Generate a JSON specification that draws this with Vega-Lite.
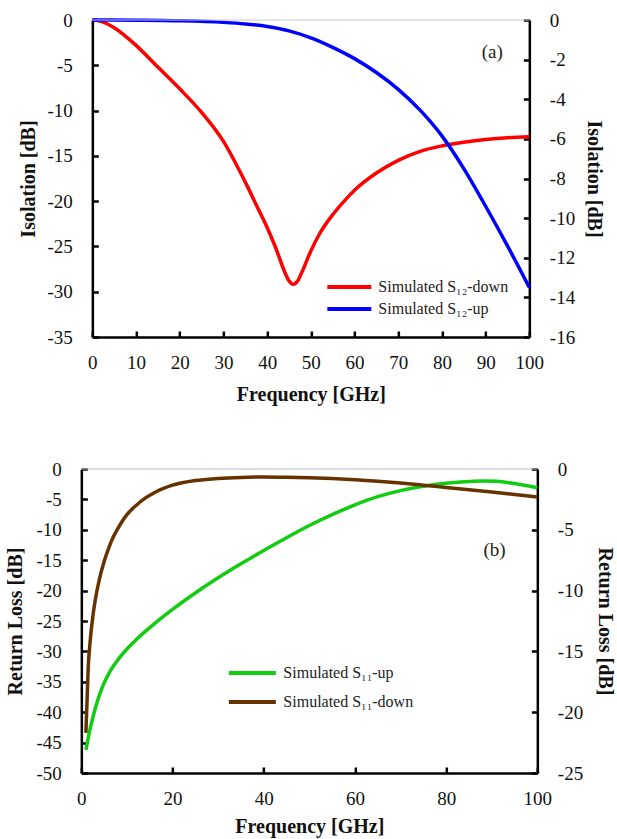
{
  "$schema": "https://vega.github.io/schema/vega-lite/v6.json",
  "padding": {"left": 5, "top": 11, "right": 3, "bottom": 5},
  "background": "white",
  "config": {
    "font": "Liberation Serif",
    "view": {"stroke": null},
    "axis": {
      "labelFont": "Liberation Serif", "labelFontSize": 19, "labelColor": "#111111",
      "titleFont": "Liberation Serif", "titleFontSize": 20, "titleFontWeight": "bold", "titleColor": "#111111",
      "domainColor": "#000000", "domainWidth": 2.5, "tickColor": "#000000", "tickWidth": 2.5,
      "tickSize": -6, "labelPadding": 26, "grid": false, "titlePadding": 4, "labelFlush": false, "labelOverlap": false,
      "labelExpr": "replace(datum.label, '−', '-')"
    },
    "legend": {
      "labelFont": "Liberation Serif", "labelFontSize": 16, "labelColor": "#222222",
      "symbolType": "M-2,0L2,0", "symbolStrokeWidth": 4, "padding": 0
    }
  },
  "spacing": 56,
  "center": true,
  "resolve": {"scale": {"color": "independent", "x": "independent"}, "legend": {"color": "independent"}},
  "vconcat": [
    {
      "width": 437, "height": 317,
      "data": {"values": [
        {"f": 0, "v": 0, "s": "Simulated S₁₂-down"},
        {"f": 2, "v": -0.15, "s": "Simulated S₁₂-down"},
        {"f": 5, "v": -0.85, "s": "Simulated S₁₂-down"},
        {"f": 10, "v": -2.8, "s": "Simulated S₁₂-down"},
        {"f": 15, "v": -5.2, "s": "Simulated S₁₂-down"},
        {"f": 20, "v": -7.6, "s": "Simulated S₁₂-down"},
        {"f": 25, "v": -10.2, "s": "Simulated S₁₂-down"},
        {"f": 30, "v": -13.4, "s": "Simulated S₁₂-down"},
        {"f": 35, "v": -17.9, "s": "Simulated S₁₂-down"},
        {"f": 38, "v": -20.9, "s": "Simulated S₁₂-down"},
        {"f": 40, "v": -22.9, "s": "Simulated S₁₂-down"},
        {"f": 42, "v": -25.2, "s": "Simulated S₁₂-down"},
        {"f": 44, "v": -27.8, "s": "Simulated S₁₂-down"},
        {"f": 45, "v": -28.8, "s": "Simulated S₁₂-down"},
        {"f": 46, "v": -29.2, "s": "Simulated S₁₂-down"},
        {"f": 47, "v": -28.8, "s": "Simulated S₁₂-down"},
        {"f": 48, "v": -27.8, "s": "Simulated S₁₂-down"},
        {"f": 50, "v": -25.5, "s": "Simulated S₁₂-down"},
        {"f": 52, "v": -23.6, "s": "Simulated S₁₂-down"},
        {"f": 55, "v": -21.5, "s": "Simulated S₁₂-down"},
        {"f": 58, "v": -19.8, "s": "Simulated S₁₂-down"},
        {"f": 60, "v": -18.8, "s": "Simulated S₁₂-down"},
        {"f": 65, "v": -16.9, "s": "Simulated S₁₂-down"},
        {"f": 70, "v": -15.5, "s": "Simulated S₁₂-down"},
        {"f": 75, "v": -14.5, "s": "Simulated S₁₂-down"},
        {"f": 80, "v": -13.9, "s": "Simulated S₁₂-down"},
        {"f": 85, "v": -13.5, "s": "Simulated S₁₂-down"},
        {"f": 90, "v": -13.2, "s": "Simulated S₁₂-down"},
        {"f": 95, "v": -13.0, "s": "Simulated S₁₂-down"},
        {"f": 100, "v": -12.9, "s": "Simulated S₁₂-down"},
        {"f": 0, "v": 0, "s": "Simulated S₁₂-up"},
        {"f": 10, "v": -0.01, "s": "Simulated S₁₂-up"},
        {"f": 20, "v": -0.04, "s": "Simulated S₁₂-up"},
        {"f": 30, "v": -0.12, "s": "Simulated S₁₂-up"},
        {"f": 35, "v": -0.2, "s": "Simulated S₁₂-up"},
        {"f": 40, "v": -0.33, "s": "Simulated S₁₂-up"},
        {"f": 45, "v": -0.55, "s": "Simulated S₁₂-up"},
        {"f": 50, "v": -0.9, "s": "Simulated S₁₂-up"},
        {"f": 55, "v": -1.38, "s": "Simulated S₁₂-up"},
        {"f": 60, "v": -1.95, "s": "Simulated S₁₂-up"},
        {"f": 65, "v": -2.65, "s": "Simulated S₁₂-up"},
        {"f": 70, "v": -3.5, "s": "Simulated S₁₂-up"},
        {"f": 75, "v": -4.55, "s": "Simulated S₁₂-up"},
        {"f": 80, "v": -5.85, "s": "Simulated S₁₂-up"},
        {"f": 85, "v": -7.5, "s": "Simulated S₁₂-up"},
        {"f": 90, "v": -9.4, "s": "Simulated S₁₂-up"},
        {"f": 95, "v": -11.4, "s": "Simulated S₁₂-up"},
        {"f": 100, "v": -13.5, "s": "Simulated S₁₂-up"}
      ]},
      "layer": [
        {
          "transform": [{"filter": "datum.s == 'Simulated S₁₂-down'"}],
          "mark": {"type": "line", "strokeWidth": 3.5, "interpolate": "monotone"},
          "encoding": {
            "x": {"field": "f", "type": "quantitative", "scale": {"domain": [0, 100], "nice": false},
                  "axis": {"values": [0, 10, 20, 30, 40, 50, 60, 70, 80, 90, 100], "title": "Frequency [GHz]", "labelPadding": 22, "titlePadding": 12}},
            "y": {"field": "v", "type": "quantitative", "scale": {"domain": [-35, 0], "nice": false},
                  "axis": {"orient": "left", "values": [0, -5, -10, -15, -20, -25, -30, -35], "title": "Isolation [dB]", "titlePadding": 9}},
            "color": {"field": "s", "type": "nominal",
                      "scale": {"domain": ["Simulated S₁₂-down", "Simulated S₁₂-up"], "range": ["#ff0000", "#0000ff"]},
                      "legend": {"orient": "none", "legendX": 244, "legendY": 254, "title": null, "symbolSize": 484, "rowPadding": 1, "labelOffset": 16}}
          }
        },
        {
          "transform": [{"filter": "datum.s == 'Simulated S₁₂-up'"}],
          "mark": {"type": "line", "strokeWidth": 3.5, "interpolate": "monotone"},
          "encoding": {
            "x": {"field": "f", "type": "quantitative", "scale": {"domain": [0, 100], "nice": false}},
            "y": {"field": "v", "type": "quantitative", "scale": {"domain": [-16, 0], "nice": false},
                  "axis": {"orient": "right", "values": [0, -2, -4, -6, -8, -10, -12, -14, -16], "title": "Isolation [dB]", "titlePadding": 9}},
            "color": {"field": "s", "type": "nominal"}
          }
        },
        {
          "data": {"values": [{"f": 91.5, "v": -3.5, "t": "(a)"}]},
          "mark": {"type": "text", "font": "Liberation Serif", "fontSize": 19, "color": "#222222"},
          "encoding": {
            "x": {"field": "f", "type": "quantitative", "scale": {"domain": [0, 100], "nice": false}},
            "y": {"field": "v", "type": "quantitative", "scale": {"domain": [-35, 0], "nice": false}, "axis": null},
            "text": {"field": "t"}
          }
        },
        {
          "data": {"values": [{"v": 0}]},
          "mark": {"type": "rule", "color": "#cccccc", "strokeWidth": 1},
          "encoding": {
            "y": {"field": "v", "type": "quantitative", "scale": {"domain": [-35, 0], "nice": false}, "axis": null}
          }
        }
      ],
      "resolve": {"scale": {"y": "independent"}}
    },
    {
      "width": 456, "height": 304,
      "data": {"values": [
        {"f": 1, "v": -46.2, "s": "Simulated S₁₁-up"},
        {"f": 2, "v": -42.5, "s": "Simulated S₁₁-up"},
        {"f": 3, "v": -39.5, "s": "Simulated S₁₁-up"},
        {"f": 4, "v": -37.1, "s": "Simulated S₁₁-up"},
        {"f": 5, "v": -35.2, "s": "Simulated S₁₁-up"},
        {"f": 6, "v": -33.7, "s": "Simulated S₁₁-up"},
        {"f": 7, "v": -32.45, "s": "Simulated S₁₁-up"},
        {"f": 8, "v": -31.4, "s": "Simulated S₁₁-up"},
        {"f": 10, "v": -29.6, "s": "Simulated S₁₁-up"},
        {"f": 12, "v": -28.1, "s": "Simulated S₁₁-up"},
        {"f": 15, "v": -26.1, "s": "Simulated S₁₁-up"},
        {"f": 20, "v": -23.1, "s": "Simulated S₁₁-up"},
        {"f": 25, "v": -20.4, "s": "Simulated S₁₁-up"},
        {"f": 30, "v": -17.9, "s": "Simulated S₁₁-up"},
        {"f": 35, "v": -15.6, "s": "Simulated S₁₁-up"},
        {"f": 40, "v": -13.4, "s": "Simulated S₁₁-up"},
        {"f": 45, "v": -11.3, "s": "Simulated S₁₁-up"},
        {"f": 50, "v": -9.3, "s": "Simulated S₁₁-up"},
        {"f": 55, "v": -7.5, "s": "Simulated S₁₁-up"},
        {"f": 60, "v": -5.9, "s": "Simulated S₁₁-up"},
        {"f": 65, "v": -4.55, "s": "Simulated S₁₁-up"},
        {"f": 70, "v": -3.55, "s": "Simulated S₁₁-up"},
        {"f": 75, "v": -2.85, "s": "Simulated S₁₁-up"},
        {"f": 80, "v": -2.35, "s": "Simulated S₁₁-up"},
        {"f": 85, "v": -2.05, "s": "Simulated S₁₁-up"},
        {"f": 88, "v": -1.97, "s": "Simulated S₁₁-up"},
        {"f": 91, "v": -2.03, "s": "Simulated S₁₁-up"},
        {"f": 95, "v": -2.4, "s": "Simulated S₁₁-up"},
        {"f": 100, "v": -3.1, "s": "Simulated S₁₁-up"},
        {"f": 1, "v": -21.7, "s": "Simulated S₁₁-down"},
        {"f": 1.5, "v": -16.4, "s": "Simulated S₁₁-down"},
        {"f": 2, "v": -13.9, "s": "Simulated S₁₁-down"},
        {"f": 2.5, "v": -12.2, "s": "Simulated S₁₁-down"},
        {"f": 3, "v": -10.9, "s": "Simulated S₁₁-down"},
        {"f": 4, "v": -9.0, "s": "Simulated S₁₁-down"},
        {"f": 5, "v": -7.6, "s": "Simulated S₁₁-down"},
        {"f": 6, "v": -6.5, "s": "Simulated S₁₁-down"},
        {"f": 7, "v": -5.6, "s": "Simulated S₁₁-down"},
        {"f": 8, "v": -4.9, "s": "Simulated S₁₁-down"},
        {"f": 10, "v": -3.75, "s": "Simulated S₁₁-down"},
        {"f": 12, "v": -3.0, "s": "Simulated S₁₁-down"},
        {"f": 14, "v": -2.4, "s": "Simulated S₁₁-down"},
        {"f": 16, "v": -1.95, "s": "Simulated S₁₁-down"},
        {"f": 18, "v": -1.6, "s": "Simulated S₁₁-down"},
        {"f": 20, "v": -1.33, "s": "Simulated S₁₁-down"},
        {"f": 25, "v": -0.95, "s": "Simulated S₁₁-down"},
        {"f": 30, "v": -0.78, "s": "Simulated S₁₁-down"},
        {"f": 35, "v": -0.69, "s": "Simulated S₁₁-down"},
        {"f": 40, "v": -0.66, "s": "Simulated S₁₁-down"},
        {"f": 45, "v": -0.68, "s": "Simulated S₁₁-down"},
        {"f": 50, "v": -0.72, "s": "Simulated S₁₁-down"},
        {"f": 55, "v": -0.79, "s": "Simulated S₁₁-down"},
        {"f": 60, "v": -0.88, "s": "Simulated S₁₁-down"},
        {"f": 65, "v": -1.0, "s": "Simulated S₁₁-down"},
        {"f": 70, "v": -1.15, "s": "Simulated S₁₁-down"},
        {"f": 75, "v": -1.33, "s": "Simulated S₁₁-down"},
        {"f": 80, "v": -1.52, "s": "Simulated S₁₁-down"},
        {"f": 85, "v": -1.7, "s": "Simulated S₁₁-down"},
        {"f": 90, "v": -1.9, "s": "Simulated S₁₁-down"},
        {"f": 95, "v": -2.1, "s": "Simulated S₁₁-down"},
        {"f": 100, "v": -2.3, "s": "Simulated S₁₁-down"}
      ]},
      "layer": [
        {
          "transform": [{"filter": "datum.s == 'Simulated S₁₁-up'"}],
          "mark": {"type": "line", "strokeWidth": 3.5, "interpolate": "monotone"},
          "encoding": {
            "x": {"field": "f", "type": "quantitative", "scale": {"domain": [0, 100], "nice": false},
                  "axis": {"values": [0, 20, 40, 60, 80, 100], "title": "Frequency [GHz]", "labelPadding": 22, "titlePadding": 8}},
            "y": {"field": "v", "type": "quantitative", "scale": {"domain": [-50, 0], "nice": false},
                  "axis": {"orient": "left", "values": [0, -5, -10, -15, -20, -25, -30, -35, -40, -45, -50], "title": "Return Loss [dB]", "titlePadding": 11}},
            "color": {"field": "s", "type": "nominal",
                      "scale": {"domain": ["Simulated S₁₁-up", "Simulated S₁₁-down"], "range": ["#11cc11", "#663300"]},
                      "legend": {"orient": "none", "legendX": 157, "legendY": 190, "title": null, "symbolSize": 552, "rowPadding": 7, "labelOffset": 17}}
          }
        },
        {
          "transform": [{"filter": "datum.s == 'Simulated S₁₁-down'"}],
          "mark": {"type": "line", "strokeWidth": 3.5, "interpolate": "monotone"},
          "encoding": {
            "x": {"field": "f", "type": "quantitative", "scale": {"domain": [0, 100], "nice": false}},
            "y": {"field": "v", "type": "quantitative", "scale": {"domain": [-25, 0], "nice": false},
                  "axis": {"orient": "right", "values": [0, -5, -10, -15, -20, -25], "title": "Return Loss [dB]", "titlePadding": 12}},
            "color": {"field": "s", "type": "nominal"}
          }
        },
        {
          "data": {"values": [{"f": 90.6, "v": -13.3, "t": "(b)"}]},
          "mark": {"type": "text", "font": "Liberation Serif", "fontSize": 19, "color": "#222222"},
          "encoding": {
            "x": {"field": "f", "type": "quantitative", "scale": {"domain": [0, 100], "nice": false}},
            "y": {"field": "v", "type": "quantitative", "scale": {"domain": [-50, 0], "nice": false}, "axis": null},
            "text": {"field": "t"}
          }
        },
        {
          "data": {"values": [{"v": 0}]},
          "mark": {"type": "rule", "color": "#bbbbbb", "strokeWidth": 1},
          "encoding": {
            "y": {"field": "v", "type": "quantitative", "scale": {"domain": [-50, 0], "nice": false}, "axis": null}
          }
        }
      ],
      "resolve": {"scale": {"y": "independent"}}
    }
  ]
}
